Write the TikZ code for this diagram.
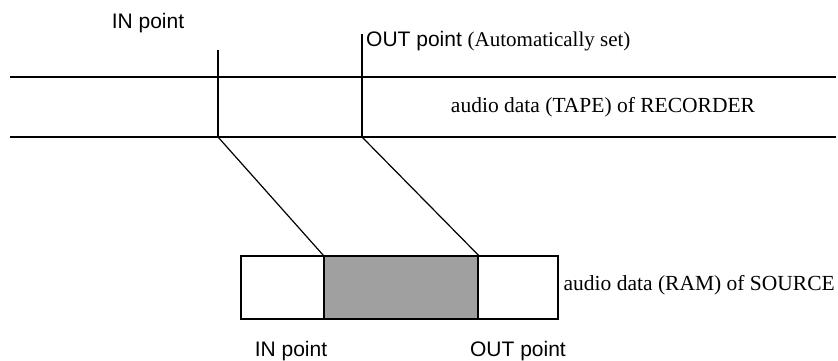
\documentclass[tikz,border=0pt]{standalone}
\usepackage{fontspec}
\setmainfont{Liberation Serif}
\setsansfont{Liberation Sans}
\usetikzlibrary{positioning}
\definecolor{selgray}{RGB}{160,160,160}
\newcommand{\tapeline}[2]{\draw[edge] (10,#1) coordinate (#2w) -- (836,#1) coordinate (#2e);}
\tikzset{
  edge/.style={line width=1.2pt},
  sanslabel/.style={font=\sffamily\fontsize{21}{23}\selectfont,inner sep=0pt},
  seriflabel/.style={font=\rmfamily\fontsize{21.5}{24}\selectfont,inner sep=0pt},
  ramblock/.style={draw,line width=1.2pt,inner sep=0pt,minimum height=63pt}
}

\begin{document}
\begin{tikzpicture}[x=1pt,y=-1pt]
  \useasboundingbox (0,0) rectangle (838,361);
  % tape of recorder
  \tapeline{77}{tapetop}
  \tapeline{137}{tapebot}
  \node[seriflabel] (tape) at (603,107) {audio data (TAPE) of RECORDER};
  % edit points on the tape
  \coordinate (inhi) at (218,50);
  \coordinate (inlo) at (218,137);
  \coordinate (outhi) at (362,34);
  \coordinate (outlo) at (362,137);
  \draw[edge] (inhi) -- (inlo);
  \draw[edge] (outhi) -- (outlo);
  \node[sanslabel] (intop) at (148,23) {IN point};
  \node[sanslabel,anchor=west] (outtop) at (366,41) {OUT point {\rmfamily(Automatically set)}};
  % ram of source
  \node[ramblock,minimum width=317pt] (ram) at (399.5,287.5) {};
  \node[ramblock,minimum width=154pt,fill=selgray] (sel) at (401,287.5) {};
  \node[seriflabel,anchor=east] (ramlab) at (835,285) {audio data (RAM) of SOURCE};
  \node[sanslabel] (inbot) at (291,351) {IN point};
  \node[sanslabel] (outbot) at (518,351) {OUT point};
  \draw[edge] (inlo) -- (sel.north west);
  \draw[edge] (outlo) -- (sel.north east);
\end{tikzpicture}
\end{document}
